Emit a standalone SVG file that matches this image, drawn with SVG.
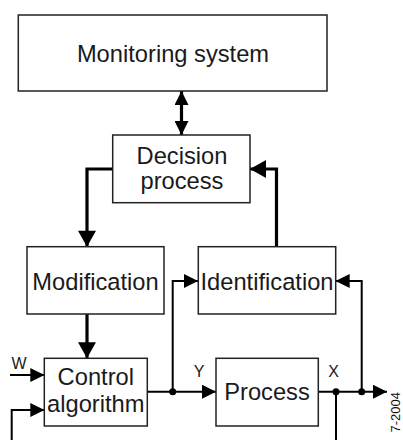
<svg xmlns="http://www.w3.org/2000/svg" width="403" height="440" viewBox="0 0 403 440">
<style>
.box{fill:#fff;stroke:#222;stroke-width:1.5}
.lbl{font-family:"Liberation Sans",Arial,sans-serif;font-size:23.7px;fill:#1a1a1a;text-anchor:middle}
.sm{font-family:"Liberation Sans",Arial,sans-serif;font-size:16px;fill:#1a1a1a;text-anchor:middle}
.thick{fill:none;stroke:#000;stroke-width:3.2}
.thin{fill:none;stroke:#000;stroke-width:2}
.dot{fill:#000}
</style>
<defs>
<marker id="ahT" markerUnits="userSpaceOnUse" markerWidth="18" markerHeight="18" viewBox="0 0 16 18" refX="16" refY="9" orient="auto">
<path d="M0,0 L16,9 L0,18 Z" fill="#000"/>
</marker>
<marker id="ahD" markerUnits="userSpaceOnUse" markerWidth="14" markerHeight="14" viewBox="0 0 14 14" refX="14" refY="7" orient="auto-start-reverse">
<path d="M0,0 L14,7 L0,14 Z" fill="#000"/>
</marker>
<marker id="ah" markerUnits="userSpaceOnUse" markerWidth="14" markerHeight="14" viewBox="0 0 14 14" refX="14" refY="7" orient="auto">
<path d="M0,0 L14,7 L0,14 Z" fill="#000"/>
</marker>
</defs>

<g id="connectors">
<line class="thick" x1="181.5" y1="91" x2="181.5" y2="135" marker-start="url(#ahD)" marker-end="url(#ahD)"/>
<polyline class="thick" points="112.7,169 87,169 87,246.7" marker-end="url(#ahT)"/>
<polyline class="thick" points="276.5,246.7 276.5,169 250,169" marker-end="url(#ahT)"/>
<line class="thick" x1="87" y1="314" x2="87" y2="358.3" marker-end="url(#ahT)"/>
<line class="thin" x1="10" y1="375" x2="44.3" y2="375" marker-end="url(#ah)"/>
<polyline class="thin" points="11.7,440 11.7,410 44.3,410" marker-end="url(#ah)"/>
<line class="thin" x1="147.3" y1="391.7" x2="216" y2="391.7" marker-end="url(#ah)"/>
<polyline class="thin" points="172.7,391.7 172.7,281 198,281" marker-end="url(#ah)"/>
<line class="thin" x1="318.3" y1="391.7" x2="387" y2="391.7" marker-end="url(#ah)"/>
<polyline class="thin" points="361.7,391.7 361.7,281 335.7,281" marker-end="url(#ah)"/>
<line class="thin" x1="336" y1="391.7" x2="336" y2="440"/>
<circle class="dot" cx="172.7" cy="391.7" r="3.5"/>
<circle class="dot" cx="336" cy="391.7" r="3.5"/>
<circle class="dot" cx="361.7" cy="391.7" r="3.5"/>
</g>

<g id="monitoring">
<rect class="box" x="18.3" y="15" width="308.7" height="76"/>
<text class="lbl" x="173" y="62">Monitoring system</text>
</g>
<g id="decision">
<rect class="box" x="112.7" y="135" width="137.3" height="67.7"/>
<text class="lbl" x="182" y="163.5">Decision</text>
<text class="lbl" x="182" y="189">process</text>
</g>
<g id="modification">
<rect class="box" x="27" y="246.7" width="137" height="67.3"/>
<text class="lbl" x="95.5" y="290">Modification</text>
</g>
<g id="identification">
<rect class="box" x="198.3" y="246.7" width="137.4" height="67.3"/>
<text class="lbl" x="267" y="290">Identification</text>
</g>
<g id="control">
<rect class="box" x="44.3" y="358.3" width="103" height="67.7"/>
<text class="lbl" x="95.8" y="385">Control</text>
<text class="lbl" x="95.8" y="411.5">algorithm</text>
</g>
<g id="process">
<rect class="box" x="216" y="358.3" width="102.3" height="67.7"/>
<text class="lbl" x="267" y="399.5">Process</text>
</g>
<g id="labels">
<text class="sm" x="19" y="369">W</text>
<text class="sm" x="199" y="377">Y</text>
<text class="sm" x="333.5" y="377">X</text>
<text font-family="Liberation Sans,Arial,sans-serif" font-size="13" fill="#111" text-anchor="end" transform="translate(400,392) rotate(-90)">7-2004</text>
</g>
</svg>
